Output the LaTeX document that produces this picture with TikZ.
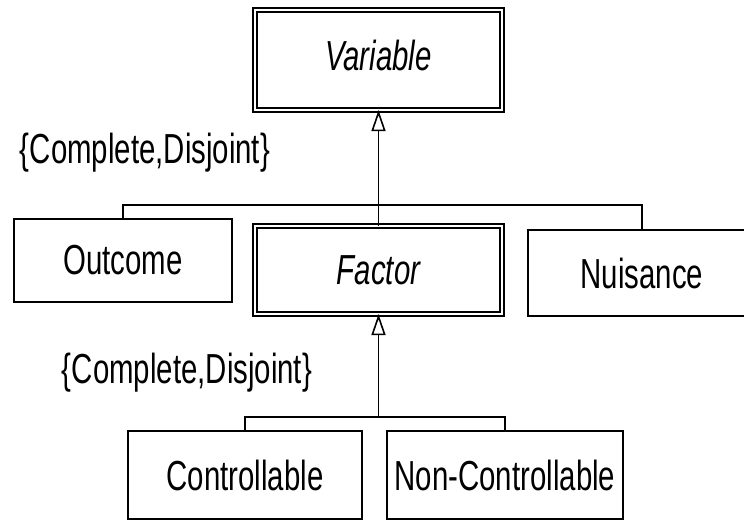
\documentclass[tikz,border=0pt]{standalone}
\usepackage{fontspec}
\setmainfont{Liberation Sans}[FakeStretch=0.7]
\usetikzlibrary{arrows.meta}
\begin{document}
\begin{tikzpicture}[x=1pt,y=-1pt,
  font=\fontsize{42}{48}\selectfont,
  classbox/.style={draw, line width=1.8pt, inner sep=0pt, outer sep=0pt},
  abstractbox/.style={draw, line width=1.9pt, double, double distance=2pt,
    inner sep=0pt, outer sep=0pt, font=\fontsize{42}{48}\selectfont\itshape},
  wire/.style={line width=1.8pt},
  isa/.style={wire, -{Triangle[open, fill=white, length=21pt, width=14pt, line width=1.6pt]}},
  constraint/.style={anchor=base, inner sep=0pt}]
  \useasboundingbox (0,0) rectangle (744,523);

  % abstract classes
  \node[abstractbox, minimum width=247.2pt, minimum height=100.2pt, text depth=10pt]
    (variable) at (378.5,60) {Variable};
  \node[abstractbox, minimum width=247.2pt, minimum height=88.2pt]
    (factor) at (378.5,270) {Factor};

  % concrete classes
  \node[classbox, minimum width=218.2pt, minimum height=83.7pt]
    (outcome) at (123,260.5) {Outcome};
  \node[classbox, minimum width=228.7pt, minimum height=86.7pt]
    (nuisance) at (642,273) {Nuisance};
  \node[classbox, minimum width=234.7pt, minimum height=88.7pt]
    (controllable) at (245,475) {Controllable};
  \node[classbox, minimum width=236.7pt, minimum height=88.7pt]
    (noncontrollable) at (505,475) {Non-Controllable};

  % generalization set constraints
  \node[constraint] (c1) at (145,163) {\{Complete,Disjoint\}};
  \node[constraint] (c2) at (187,383) {\{Complete,Disjoint\}};

  % Variable generalization
  \coordinate (bar1) at (378.5,205);
  \draw[wire] (outcome.north) -- (outcome.north |- bar1) -- (nuisance.north |- bar1) -- (nuisance.north);
  \draw[isa] (factor.north) -- (variable.south);

  % Factor generalization
  \coordinate (bar2) at (378.5,417);
  \draw[wire] (controllable.north) -- (controllable.north |- bar2) -- (noncontrollable.north |- bar2) -- (noncontrollable.north);
  \draw[isa] (bar2) -- (factor.south);
\end{tikzpicture}
\end{document}
